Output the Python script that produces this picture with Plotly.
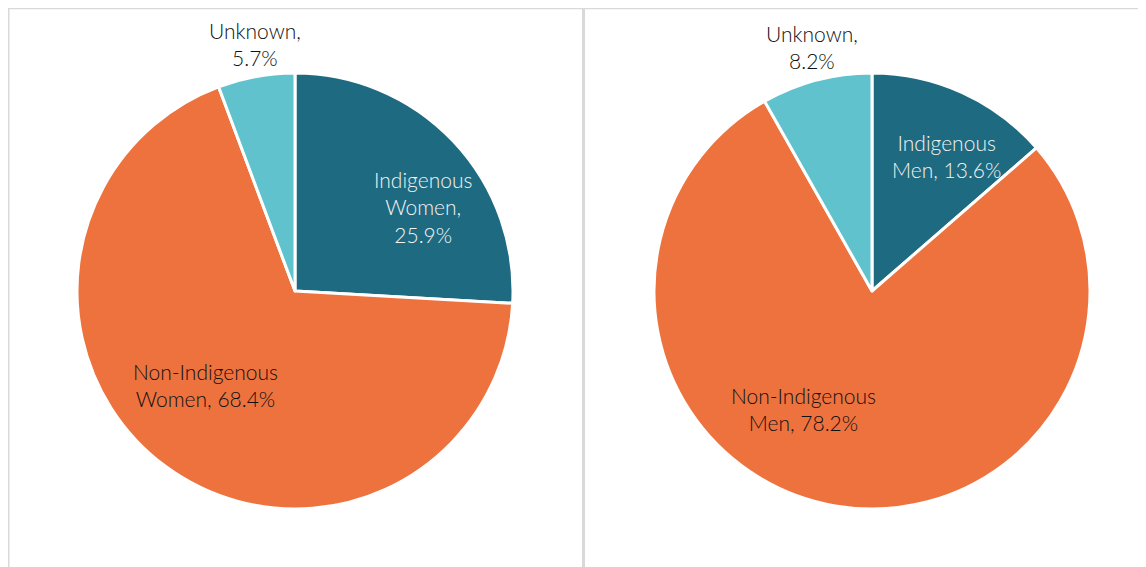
import plotly.graph_objects as go

W, H = 1146, 567
OFF = 8  # page offset of the plot div

categories_left = ["Indigenous Women", "Non-Indigenous Women", "Unknown"]
values_left = [25.9, 68.4, 5.7]
categories_right = ["Indigenous Men", "Non-Indigenous Men", "Unknown"]
values_right = [13.6, 78.2, 8.2]
colors = ["#1E6A80", "#EE723E", "#60C2CD"]

label_left = ["Indigenous<br>Women,<br>25.9%", "Non-Indigenous<br>Women, 68.4%", "Unknown,<br>5.7%"]
label_right = ["Indigenous<br>Men, 13.6%", "Non-Indigenous<br>Men, 78.2%", "Unknown,<br>8.2%"]

def px(x):
    return (x - OFF) / W

def py(y):
    return 1 - (y - OFF) / H

fig = go.Figure()
r = 218
for cx, cats, vals in [(295, categories_left, values_left), (872, categories_right, values_right)]:
    fig.add_trace(go.Pie(
        labels=cats, values=vals, sort=False, direction="clockwise", rotation=0,
        marker=dict(colors=colors, line=dict(color="white", width=3)),
        textinfo="none", hoverinfo="label+percent", showlegend=False,
        domain=dict(x=[px(cx - r), px(cx + r)], y=[py(291 + r), py(291 - r)]),
    ))

font_family = "Lato"
positions = [
    (label_left[0], 423, 207, "#F2F2F2"),
    (label_left[1], 205, 385, "#111111"),
    (label_left[2], 255, 44, "#111111"),
    (label_right[0], 947, 156, "#F2F2F2"),
    (label_right[1], 803, 409, "#111111"),
    (label_right[2], 812, 47, "#111111"),
]
for txt, x, y, c in positions:
    fig.add_annotation(text=txt, x=px(x), y=py(y), xref="paper", yref="paper",
                       showarrow=False, xanchor="center", yanchor="middle",
                       font=dict(family=font_family, size=21, color=c, weight=300))

line_col = "#D9D9D9"
fig.add_shape(type="line", xref="paper", yref="paper", x0=px(8), x1=1, y0=py(8.5), y1=py(8.5),
              line=dict(color=line_col, width=1.5))
fig.add_shape(type="line", xref="paper", yref="paper", x0=px(8.5), x1=px(8.5), y0=py(8), y1=0,
              line=dict(color=line_col, width=2))
fig.add_shape(type="line", xref="paper", yref="paper", x0=px(583.5), x1=px(583.5), y0=py(8), y1=0,
              line=dict(color=line_col, width=3))

fig.update_layout(width=W, height=H, margin=dict(l=0, r=0, t=0, b=0),
                  paper_bgcolor="white", plot_bgcolor="white")
fig.write_html("out.html")
